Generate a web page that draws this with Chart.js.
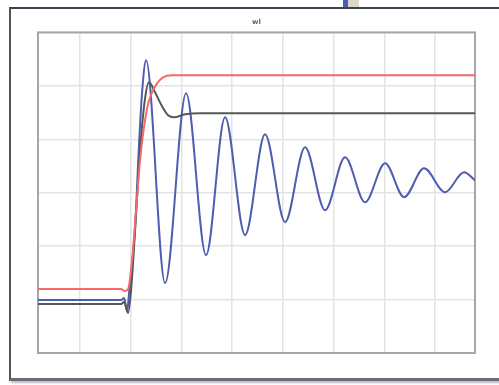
<!DOCTYPE html>
<html>
<head>
<meta charset="utf-8">
<script src="https://cdn.jsdelivr.net/npm/chart.js@4/dist/chart.umd.min.js"></script>
<style>
  html, body { margin: 0; padding: 0; background: #fff; overflow: hidden; }
  #frame {
    position: absolute; left: 9px; top: 7px; width: 520px; height: 369px;
    border-top: 2px solid #3c4350; border-left: 2px solid #50545c;
    border-bottom: 3px solid #6a6d72;
    box-shadow: 2px 2px 2px #b8bcc2;
    background: #fff;
  }
  #tabA { position: absolute; left: 343px; top: 0; width: 5px; height: 8px; background: #4a5fb0; }
  #tabB { position: absolute; left: 348px; top: 0; width: 11px; height: 8px; background: #ddd8c8; }
  #c { position: absolute; left: 0; top: 0; }
</style>
</head>
<body>
<div id="tabA"></div><div id="tabB"></div>
<div id="frame"></div>
<canvas id="c" width="499" height="385"></canvas>
<script>
'use strict'

// grid positions (x in grid units, y in grid units)
var xTicks = [0, 1, 2, 3, 4, 5, 6, 7];
var yTicks = [0, 1, 2, 3, 4, 5, 6];

// red: slow first-order-like response
var redX = [-0.83, 0.809, 0.868, 0.947, 1.026, 1.105, 1.183, 1.321, 1.420, 1.519, 1.637, 1.815, 7.79];
var redY = [1.196, 1.196, 1.159, 1.196, 1.738, 2.673, 3.607, 4.579, 4.879, 5.047, 5.159, 5.196, 5.196];

// dark grey: damped response with one overshoot
var greyX = [-0.83, 0.809, 0.868, 0.947, 1.006, 1.085, 1.183, 1.282, 1.361, 1.479, 1.617, 1.736, 1.854, 2.071, 2.367, 7.79];
var greyY = [0.916, 0.916, 0.953, 0.748, 1.178, 2.299, 3.794, 4.766, 5.065, 4.879, 4.617, 4.449, 4.411, 4.467, 4.486, 4.486];

// blue: lightly damped oscillation (step, then peaks and troughs)
var blueX = [-0.83, 0.809, 0.868, 0.927, 0.966, 1.085, 1.164, 1.223, 1.302, 1.677,
  2.091, 2.485, 2.860, 3.254, 3.649, 4.043, 4.438, 4.832, 5.227, 5.621,
  6.016, 6.391, 6.785, 7.199, 7.574, 7.79];
var blueY = [0.991, 0.991, 1.028, 0.785, 1.121, 2.355, 3.925, 4.879, 5.477, 1.308,
  4.860, 1.832, 4.411, 2.206, 4.093, 2.449, 3.850, 2.673, 3.664, 2.822,
  3.551, 2.916, 3.458, 3.009, 3.383, 3.234];

function pts(xs, ys) {
  return xs.map(function (x, i) { return { x: x, y: ys[i] }; });
}

var plotBorder = {
  id: 'plotBorder',
  beforeDatasetsDraw: function (chart) {
    var a = chart.chartArea, ctx = chart.ctx;
    ctx.save();
    ctx.strokeStyle = '#a4a6aa';
    ctx.lineWidth = 2;
    ctx.strokeRect(a.left, a.top, a.right - a.left, a.bottom - a.top);
    ctx.restore();
  }
};

new Chart(document.getElementById('c').getContext('2d'), {
  type: 'line',
  data: {
    datasets: [
      { data: pts(redX, redY), borderColor: '#f26a6a', borderWidth: 2 },
      { data: pts(greyX, greyY), borderColor: '#555759', borderWidth: 2 },
      { data: pts(blueX, blueY), borderColor: '#4f5db0', borderWidth: 2 }
    ]
  },
  options: {
    responsive: false,
    animation: false,
    layout: { padding: { left: 38, right: 24, top: 18, bottom: 32 } },
    elements: {
      point: { radius: 0 },
      line: { cubicInterpolationMode: 'monotone', fill: false }
    },
    plugins: {
      legend: { display: false },
      tooltip: { enabled: false },
      title: {
        display: true, text: 'wl', color: '#666',
        font: { size: 7, family: 'DejaVu Sans' },
        padding: { top: 0, bottom: 6 }
      }
    },
    scales: {
      x: {
        type: 'linear', min: -0.83, max: 7.79,
        afterBuildTicks: function (s) { s.ticks = xTicks.map(function (v) { return { value: v }; }); },
        ticks: { display: false },
        grid: { color: '#e2e3e6', lineWidth: 1.5, drawTicks: false },
        border: { display: false }
      },
      y: {
        min: 0, max: 6,
        afterBuildTicks: function (s) { s.ticks = yTicks.map(function (v) { return { value: v }; }); },
        ticks: { display: false },
        grid: { color: '#e2e3e6', lineWidth: 1.5, drawTicks: false },
        border: { display: false }
      }
    }
  },
  plugins: [plotBorder]
});
</script>
</body>
</html>
